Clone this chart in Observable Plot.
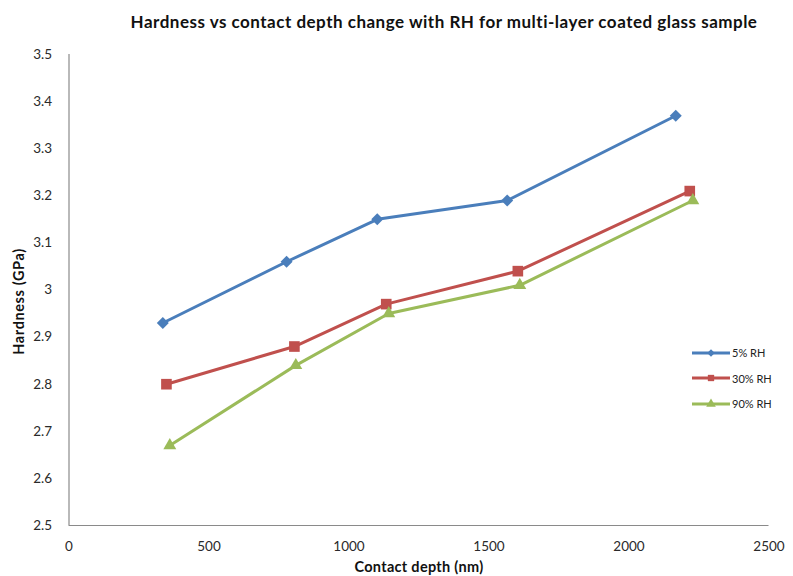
<!DOCTYPE html>
<html>
<head>
<meta charset="utf-8">
<script src="https://cdn.jsdelivr.net/npm/d3@7"></script>
<script src="https://cdn.jsdelivr.net/npm/@observablehq/plot@0.6"></script>
<style>
  html, body { margin: 0; padding: 0; background: #fff; }
  #wrap { position: relative; width: 793px; height: 576px; overflow: hidden; font-family: Lato, "Open Sans", sans-serif; }
  #title { position: absolute; top: 11px; left: 95px; width: 698px; text-align: center; font-weight: bold; font-size: 17px; color: #111; letter-spacing: 0.5px; white-space: nowrap; }
  #chart { position: absolute; top: 40px; left: 0; }
  #chart svg { font-family: Lato, "Open Sans", sans-serif; font-size: 13px; }
  #chart g[aria-label="x-axis tick label"], #chart g[aria-label="y-axis tick label"] { font-size: 13.5px; fill: #2a2a2a; }
  #chart g[aria-label="x-axis label"] text { font-weight: bold; font-size: 14.5px; fill: #111; letter-spacing: 0.3px; }
  #chart g[aria-label="text"] text { font-weight: bold; font-size: 14.5px; fill: #111; letter-spacing: 0.6px; }
  #legend { position: absolute; left: 690px; top: 340px; font-size: 11px; color: #222; }
  .row { display: flex; align-items: center; height: 25.5px; }
  .row svg { margin-right: 2px; }
</style>
</head>
<body>
<div id="wrap">
  <div id="title"></div>
  <div id="chart"></div>
  <div id="legend"></div>
</div>
<script>
const titleText = "Hardness vs contact depth change with RH for multi-layer coated glass sample";
const xLabel = "Contact depth (nm)";
const yLabel = "Hardness (GPa)";
const xTicks = [0, 500, 1000, 1500, 2000, 2500];
const yTicks = [2.5, 2.6, 2.7, 2.8, 2.9, 3, 3.1, 3.2, 3.3, 3.4, 3.5];
const seriesNames = ["5% RH", "30% RH", "90% RH"];
const seriesColors = ["#4a7ebb", "#c0504d", "#9bbb59"];
const seriesSymbols = ["diamond2", "square", "triangle"];

const depth5 = [335, 777, 1101, 1565, 2167];
const hard5  = [2.93, 3.06, 3.15, 3.19, 3.37];
const depth30 = [348, 805, 1133, 1603, 2217];
const hard30  = [2.80, 2.88, 2.97, 3.04, 3.21];
const depth90 = [360, 810, 1142, 1610, 2228];
const hard90  = [2.67, 2.84, 2.95, 3.01, 3.19];

document.getElementById("title").textContent = titleText;

const depths = [depth5, depth30, depth90];
const hards = [hard5, hard30, hard90];
const rows = [];
seriesNames.forEach((s, i) => depths[i].forEach((d, j) => rows.push({series: s, depth: d, hardness: hards[i][j]})));

const markerR = [5.4, 6.0, 4.8];

const plot = Plot.plot({
  width: 793, height: 536,
  marginLeft: 68.5, marginRight: 24.5, marginTop: 14, marginBottom: 51,
  x: {domain: [0, 2500]},
  y: {domain: [2.5, 3.5]},
  color: {domain: seriesNames, range: seriesColors},
  marks: [
    Plot.axisX({ticks: xTicks, tickSize: 0, tickPadding: 16, tickFormat: d => String(d), label: xLabel, labelAnchor: "center", labelArrow: "none", labelOffset: 46}),
    Plot.axisY({ticks: yTicks, tickSize: 0, tickPadding: 17, tickFormat: d => String(d), label: null}),
    Plot.text([yLabel], {frameAnchor: "left", text: d => d, rotate: -90, dx: -49.5, dy: 11.5, textAnchor: "middle", lineAnchor: "middle"}),
    Plot.ruleX([0], {stroke: "#8a8a8a", strokeWidth: 1.2}),
    Plot.ruleY([2.5], {stroke: "#8a8a8a", strokeWidth: 1.2}),
    Plot.line(rows, {x: "depth", y: "hardness", z: "series", stroke: "series", strokeWidth: 3}),
    ...seriesNames.map((s, i) => Plot.dot(rows.filter(d => d.series === s), {x: "depth", y: "hardness", symbol: seriesSymbols[i], fill: seriesColors[i], stroke: "none", r: markerR[i]}))
  ]
});
document.getElementById("chart").appendChild(plot);

const legend = d3.select("#legend");
seriesNames.forEach((s, i) => {
  const row = legend.append("div").attr("class", "row");
  const svg = row.append("svg").attr("width", 40).attr("height", 14);
  svg.append("line").attr("x1", 2).attr("x2", 40).attr("y1", 7).attr("y2", 7).attr("stroke", seriesColors[i]).attr("stroke-width", 3);
  const sym = {diamond2: d3.symbolDiamond2, square: d3.symbolSquare, triangle: d3.symbolTriangle}[seriesSymbols[i]];
  svg.append("path").attr("d", d3.symbol(sym, i === 0 ? 36 : 40)()).attr("transform", "translate(21,7)").attr("fill", seriesColors[i]);
  row.append("span").text(s);
});
</script>
</body>
</html>
